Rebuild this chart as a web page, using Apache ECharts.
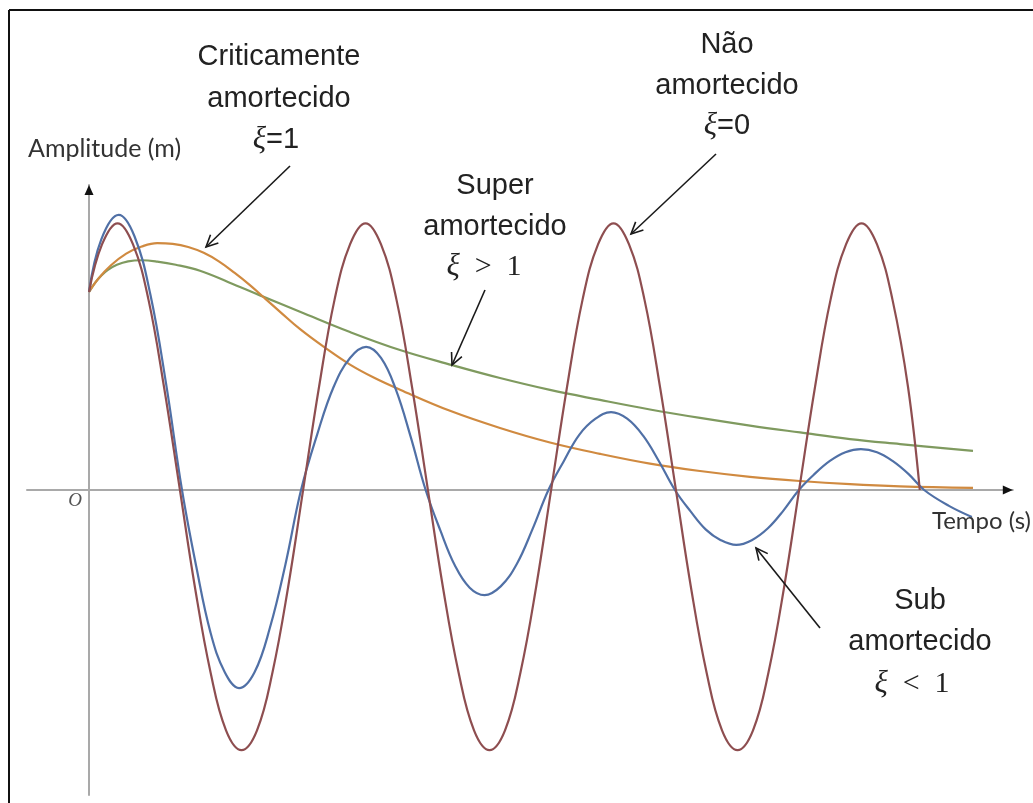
<!DOCTYPE html>
<html>
<head>
<meta charset="utf-8">
<script src="https://cdn.jsdelivr.net/npm/echarts@6/dist/echarts.min.js"></script>
<style>
  html, body { margin: 0; padding: 0; background: #ffffff; }
  #chart { width: 1033px; height: 803px; }
</style>
</head>
<body>
<div id="chart"></div>
<script>
// Free vibration of a damped oscillator: time (s) and amplitude (m) samples per regime

// Undamped, ξ = 0
const undampedT = [0, 0.21, 0.46, 0.71, 0.96, 1.21, 1.46, 1.71, 1.96, 2.21, 2.46, 2.71, 2.96, 3.21,
  3.46, 3.71, 3.96, 4.21, 4.46, 4.71, 4.96, 5.21, 5.46, 5.71, 5.96, 6.21, 6.46, 6.71, 6.96, 7.21,
  7.46, 7.71, 7.96, 8.21, 8.46, 8.71, 8.96, 9.21, 9.46, 9.71, 9.96, 10.21, 10.46, 10.71, 10.96, 11.21,
  11.46, 11.71, 11.96, 12.21, 12.46, 12.71, 12.96, 13.21, 13.4];
const undampedY = [0.75, 0.93, 1.01, 0.93, 0.72, 0.39, 0.01, -0.37, -0.69, -0.91, -0.985, -0.91, -0.69, -0.37,
  0.01, 0.39, 0.72, 0.93, 1.01, 0.93, 0.72, 0.39, 0.01, -0.37, -0.69, -0.91, -0.985, -0.91, -0.69, -0.37,
  0.01, 0.39, 0.72, 0.93, 1.01, 0.93, 0.72, 0.39, 0.01, -0.37, -0.69, -0.91, -0.985, -0.91, -0.69, -0.37,
  0.01, 0.39, 0.72, 0.93, 1.01, 0.93, 0.72, 0.39, 0.0];

// Underdamped, ξ < 1
const underT = [0, 0.2, 0.48, 0.735, 0.99, 1.245, 1.5, 1.73, 1.96, 2.19, 2.42, 2.67, 2.92, 3.17,
  3.42, 3.68, 3.945, 4.21, 4.47, 4.71, 4.95, 5.19, 5.43, 5.67, 5.9, 6.14, 6.38, 6.64, 6.9, 7.15,
  7.41, 7.66, 7.91, 8.17, 8.42, 8.68, 8.94, 9.19, 9.45, 9.7, 9.95, 10.19, 10.44, 10.69, 10.95, 11.2,
  11.45, 11.7, 11.95, 12.2, 12.45, 12.71, 12.96, 13.22, 13.47, 13.87, 14.24];
const underY = [0.75, 0.95, 1.042, 0.96, 0.74, 0.40, 0, -0.29, -0.54, -0.69, -0.75, -0.69, -0.52, -0.28,
  0, 0.21, 0.39, 0.50, 0.542, 0.50, 0.38, 0.20, 0, -0.155, -0.285, -0.37, -0.398, -0.365, -0.28, -0.15,
  0, 0.11, 0.21, 0.27, 0.295, 0.27, 0.205, 0.11, 0, -0.08, -0.15, -0.19, -0.208, -0.19, -0.145, -0.078,
  0, 0.06, 0.11, 0.143, 0.155, 0.143, 0.11, 0.06, 0, -0.06, -0.102];

// Critically damped, ξ = 1
const criticalT = [0, 0.15, 0.35, 0.6, 0.85, 1.1, 1.35, 1.6, 1.85, 2.1, 2.35, 2.6, 2.85, 3.1, 3.4,
  3.8, 4.21, 4.6, 5.016, 5.823, 6.629, 7.435, 8.242, 9.048, 9.855, 10.661, 11.468, 12.274, 13.081, 14.258];
const criticalY = [0.75, 0.80, 0.85, 0.895, 0.922, 0.935, 0.932, 0.92, 0.898, 0.865, 0.822, 0.775, 0.723, 0.671, 0.61,
  0.54, 0.475, 0.425, 0.38, 0.30, 0.235, 0.18, 0.137, 0.10, 0.072, 0.05, 0.034, 0.022, 0.014, 0.008];

// Overdamped, ξ > 1
const overT = [0, 0.1, 0.2, 0.3, 0.45, 0.63, 0.85, 1.1, 1.4, 1.79, 2.25, 2.758, 3.403, 4.21, 5.016,
  5.855, 6.629, 7.435, 8.242, 9.048, 9.855, 10.661, 11.468, 12.274, 13.081, 14.258];
const overY = [0.75, 0.785, 0.812, 0.833, 0.853, 0.866, 0.87, 0.865, 0.853, 0.83, 0.787, 0.737, 0.675, 0.598, 0.53,
  0.473, 0.424, 0.379, 0.341, 0.305, 0.273, 0.244, 0.218, 0.193, 0.174, 0.148];

// Axis extents (no tick labels are shown)
const tRange = [-1, 14.9];
const aRange = [-1.155, 1.155];

const pairs = (xs, ys) => xs.map((x, i) => [x, ys[i]]);

const SANS = "'Liberation Sans', Arial, sans-serif";
const SERIF = "'Liberation Serif', 'DejaVu Serif', serif";
const LABEL = "Lato, 'Open Sans', sans-serif";

const chart = echarts.init(document.getElementById('chart'), null, { renderer: 'canvas' });

function curve(name, pts, color) {
  return {
    name, type: 'line', data: pts, smooth: 0.4, showSymbol: false, silent: true,
    lineStyle: { color, width: 2.2 }, z: 3
  };
}

const option = {
  backgroundColor: '#ffffff',
  animation: false,
  grid: { left: 27, right: 20.2, top: 185, bottom: 8, containLabel: false },
  xAxis: {
    type: 'value', min: tRange[0], max: tRange[1],
    axisLine: { onZero: true, lineStyle: { color: '#a9a9a9', width: 2 } },
    axisTick: { show: false }, axisLabel: { show: false }, splitLine: { show: false }
  },
  yAxis: {
    type: 'value', min: aRange[0], max: aRange[1],
    axisLine: { onZero: true, lineStyle: { color: '#a9a9a9', width: 2 } },
    axisTick: { show: false }, axisLabel: { show: false }, splitLine: { show: false }
  },
  series: [
    curve('Super amortecido', pairs(overT, overY), '#7f9a5f'),
    curve('Criticamente amortecido', pairs(criticalT, criticalY), '#d08a40'),
    curve('Sub amortecido', pairs(underT, underY), '#5070a6'),
    curve('Não amortecido', pairs(undampedT, undampedY), '#8e4e50')
  ]
};
chart.setOption(option);

// --- annotations -------------------------------------------------------
const g = [];

// frame along the top and left edges
g.push({ type: 'line', shape: { x1: 9, y1: 10, x2: 1033, y2: 10 }, style: { stroke: '#111', lineWidth: 2 }, z: 10 });
g.push({ type: 'line', shape: { x1: 9, y1: 10, x2: 9, y2: 803 }, style: { stroke: '#111', lineWidth: 2 }, z: 10 });

// arrowheads at the ends of both axes
const xEnd = chart.convertToPixel({ gridIndex: 0 }, [tRange[1], 0]);
const yEnd = chart.convertToPixel({ gridIndex: 0 }, [0, aRange[1]]);
g.push({ type: 'polygon', shape: { points: [[xEnd[0], xEnd[1]], [xEnd[0] - 10, xEnd[1] - 4.5], [xEnd[0] - 10, xEnd[1] + 4.5]] },
  style: { fill: '#111' }, z: 10 });
g.push({ type: 'polygon', shape: { points: [[yEnd[0], yEnd[1]], [yEnd[0] - 4.5, yEnd[1] + 10], [yEnd[0] + 4.5, yEnd[1] + 10]] },
  style: { fill: '#111' }, z: 10 });

function text(x, y, content, font, size, extra) {
  g.push({
    type: 'text', x, y, z: 12,
    style: Object.assign({ text: content, fontFamily: font, fontSize: size, fill: '#222',
      align: 'center', verticalAlign: 'middle' }, extra || {})
  });
}

function richText(x, y, content, rich) {
  g.push({
    type: 'text', x, y, z: 12,
    style: { text: content, rich, align: 'center', verticalAlign: 'middle', fill: '#222' }
  });
}

const mathRich = {
  xi: { fontFamily: SERIF, fontStyle: 'italic', fontSize: 31, fill: '#222' },
  s: { fontFamily: SANS, fontSize: 29, fill: '#222' },
  m: { fontFamily: SERIF, fontSize: 30, fill: '#222' }
};

// axis titles and origin
text(28, 149, 'Amplitude (m)', LABEL, 25, { align: 'left', fill: '#333' });
text(1031, 521, 'Tempo (s)', LABEL, 24, { align: 'right', fill: '#333' });
text(75, 501, 'O', SERIF, 19, { fontStyle: 'italic', fill: '#555' });

// regime captions
text(279, 57, 'Criticamente', SANS, 29);
text(279, 99, 'amortecido', SANS, 29);
richText(276, 140, '{xi|ξ}{s|=1}', mathRich);

text(727, 45, 'Não', SANS, 29);
text(727, 86, 'amortecido', SANS, 29);
richText(727, 126, '{xi|ξ}{s|=0}', mathRich);

text(495, 186, 'Super', SANS, 29);
text(495, 227, 'amortecido', SANS, 29);
richText(484, 267, '{xi|ξ}{m|\u2002>\u20021}', mathRich);

text(920, 601, 'Sub', SANS, 29);
text(920, 642, 'amortecido', SANS, 29);
richText(912, 684, '{xi|ξ}{m|\u2002<\u20021}', mathRich);

// pointer arrows with open heads
function pointer(x1, y1, x2, y2) {
  g.push({ type: 'line', shape: { x1, y1, x2, y2 }, style: { stroke: '#1a1a1a', lineWidth: 1.6 }, z: 11 });
  const ang = Math.atan2(y2 - y1, x2 - x1);
  const len = 13, spread = 0.45;
  const p1 = [x2 - len * Math.cos(ang - spread), y2 - len * Math.sin(ang - spread)];
  const p2 = [x2 - len * Math.cos(ang + spread), y2 - len * Math.sin(ang + spread)];
  g.push({ type: 'polyline', shape: { points: [p1, [x2, y2], p2] },
    style: { stroke: '#1a1a1a', lineWidth: 1.6, fill: null }, z: 11 });
}
pointer(290, 166, 206, 247);
pointer(716, 154, 631, 234);
pointer(485, 290, 452, 365);
pointer(820, 628, 756, 548);

chart.setOption({ graphic: g });
</script>
</body>
</html>
